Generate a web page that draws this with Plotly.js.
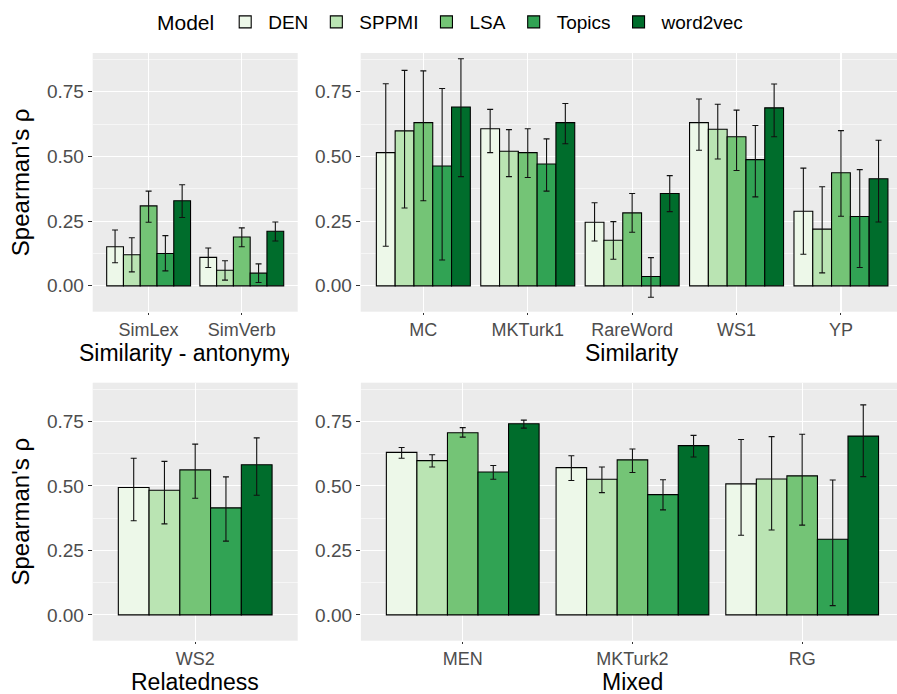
<!DOCTYPE html>
<html>
<head>
<meta charset="utf-8">
<script src="https://cdn.plot.ly/plotly-3.0.1.min.js"></script>
<style>
  html, body { margin: 0; padding: 0; overflow: hidden; background: #ffffff; }
  #chart { width: 905px; height: 694px; }
</style>
</head>
<body>
<div id="chart"></div>
<script>
// Models compared, in legend order
const models = ['DEN', 'SPPMI', 'LSA', 'Topics', 'word2vec'];

// Evaluation tasks, grouped by facet
const antonymyTasks = ['SimLex', 'SimVerb'];
const similarityTasks = ['MC', 'MKTurk1', 'RareWord', 'WS1', 'YP'];
const relatednessTasks = ['WS2'];
const mixedTasks = ['MEN', 'MKTurk2', 'RG'];

// All tasks in the order used by the value arrays below
const tasks = ['SimLex', 'SimVerb', 'MC', 'MKTurk1', 'RareWord', 'WS1', 'YP', 'WS2', 'MEN', 'MKTurk2', 'RG'];

// Spearman's rho per task, with lower / upper confidence bounds
const rhoDEN = [0.151, 0.110, 0.515, 0.607, 0.246, 0.631, 0.288, 0.494, 0.630, 0.571, 0.508];
const loDEN  = [0.089, 0.071, 0.153, 0.515, 0.173, 0.524, 0.122, 0.365, 0.607, 0.521, 0.309];
const hiDEN  = [0.216, 0.146, 0.781, 0.682, 0.321, 0.722, 0.455, 0.607, 0.649, 0.617, 0.680];

const rhoSPPMI = [0.120, 0.060, 0.599, 0.520, 0.176, 0.605, 0.219, 0.483, 0.598, 0.526, 0.527];
const loSPPMI  = [0.054, 0.022, 0.301, 0.422, 0.103, 0.490, 0.050, 0.353, 0.573, 0.474, 0.329];
const hiSPPMI  = [0.186, 0.097, 0.833, 0.604, 0.248, 0.702, 0.383, 0.595, 0.621, 0.573, 0.691];

const rhoLSA = [0.309, 0.189, 0.631, 0.515, 0.282, 0.576, 0.437, 0.562, 0.706, 0.601, 0.539];
const loLSA  = [0.246, 0.151, 0.329, 0.419, 0.207, 0.446, 0.269, 0.452, 0.689, 0.552, 0.348];
const hiLSA  = [0.366, 0.224, 0.831, 0.607, 0.357, 0.679, 0.600, 0.662, 0.726, 0.643, 0.700];

const rhoTopics = [0.125, 0.049, 0.463, 0.471, 0.036, 0.488, 0.268, 0.415, 0.554, 0.466, 0.293];
const loTopics  = [0.058, 0.013, 0.100, 0.366, -0.044, 0.344, 0.071, 0.286, 0.526, 0.407, 0.036];
const hiTopics  = [0.194, 0.085, 0.763, 0.568, 0.109, 0.620, 0.449, 0.535, 0.579, 0.524, 0.523];

const rhoW2V = [0.329, 0.211, 0.691, 0.631, 0.357, 0.688, 0.414, 0.582, 0.741, 0.656, 0.693];
const loW2V  = [0.264, 0.173, 0.422, 0.549, 0.287, 0.576, 0.247, 0.464, 0.724, 0.612, 0.536];
const hiW2V  = [0.391, 0.247, 0.878, 0.705, 0.426, 0.780, 0.563, 0.686, 0.755, 0.696, 0.814];

// Y axis tick values
const yTicks = [0, 0.25, 0.5, 0.75];
const yTickText = ['0.00', '0.25', '0.50', '0.75'];
const yMinorTicks = [-0.125, 0.125, 0.375, 0.625, 0.875];

// ColorBrewer "Greens" fills
const fills = ['#edf8e9', '#bae4b3', '#74c476', '#31a354', '#006d2c'];

const rhoByModel = [rhoDEN, rhoSPPMI, rhoLSA, rhoTopics, rhoW2V];
const loByModel = [loDEN, loSPPMI, loLSA, loTopics, loW2V];
const hiByModel = [hiDEN, hiSPPMI, hiLSA, hiTopics, hiW2V];

const FONT = 'Liberation Sans, Arial, Helvetica, sans-serif';
const W = 905, H = 694;

// Facet panels: pixel boxes of each plotting area
const panels = [
  { tasks: antonymyTasks,    label: 'Similarity - antonymy', ax: '',  x0: 92.7,  x1: 297.7, y0: 53,    y1: 311.7 },
  { tasks: similarityTasks,  label: 'Similarity',            ax: '2', x0: 360.7, x1: 903.6, y0: 53,    y1: 311.7 },
  { tasks: relatednessTasks, label: 'Relatedness',           ax: '3', x0: 92.7,  x1: 297.7, y0: 382.7, y1: 640.7 },
  { tasks: mixedTasks,       label: 'Mixed',                 ax: '4', x0: 360.9, x1: 904.0, y0: 382.7, y1: 640.7 }
];

const traces = [];
panels.forEach((p, pi) => {
  models.forEach((m, mi) => {
    const idx = p.tasks.map(t => tasks.indexOf(t));
    const y = idx.map(i => rhoByModel[mi][i]);
    const up = idx.map((i, k) => hiByModel[mi][i] - y[k]);
    const dn = idx.map((i, k) => y[k] - loByModel[mi][i]);
    traces.push({
      type: 'bar',
      name: m,
      legendgroup: m,
      showlegend: pi === 0,
      x: p.tasks,
      y: y,
      xaxis: 'x' + p.ax,
      yaxis: 'y' + p.ax,
      marker: { color: fills[mi], line: { color: '#000000', width: 1.1 } },
      error_y: {
        type: 'data', symmetric: false, array: up, arrayminus: dn,
        color: '#111111', thickness: 1.1, width: 3
      },
      hoverinfo: 'x+y+name'
    });
  });
});

const layout = {
  width: W, height: H,
  margin: { l: 0, r: 0, t: 0, b: 0, pad: 0 },
  paper_bgcolor: '#ffffff',
  plot_bgcolor: '#ebebeb',
  barmode: 'group',
  bargap: 0.1,
  bargroupgap: 0,
  font: { family: FONT, color: '#000000' },
  showlegend: true,
  legend: {
    orientation: 'h',
    x: 155 / W, xanchor: 'left',
    y: 1 - 3 / H, yanchor: 'top',
    itemwidth: 36,
    font: { family: FONT, size: 19, color: '#000000' },
    title: { text: 'Model', side: 'left', font: { family: FONT, size: 21, color: '#000000' } },
    traceorder: 'normal',
    bgcolor: 'rgba(0,0,0,0)'
  },
  annotations: []
};

panels.forEach((p, pi) => {
  const n = p.tasks.length;
  layout['xaxis' + p.ax] = {
    domain: [p.x0 / W, p.x1 / W],
    anchor: 'y' + p.ax,
    type: 'category',
    range: [-0.6, n - 0.4],
    showgrid: true, gridcolor: '#ffffff', gridwidth: 1.1,
    zeroline: false, showline: false,
    ticks: 'outside', ticklen: 2, tickwidth: 1, tickcolor: '#333333',
    tickfont: { family: FONT, size: 18, color: '#4d4d4d' },
    fixedrange: true
  };
  layout['yaxis' + p.ax] = {
    domain: [1 - p.y1 / H, 1 - p.y0 / H],
    anchor: 'x' + p.ax,
    range: [-0.1, 0.9],
    tickmode: 'array', tickvals: yTicks, ticktext: yTickText,
    showgrid: true, gridcolor: '#ffffff', gridwidth: 1.1,
    minor: { tickmode: 'array', tickvals: yMinorTicks, showgrid: true, gridcolor: '#ffffff', gridwidth: 0.55, ticks: '' },
    zeroline: false, showline: false,
    ticks: 'outside', ticklen: 4, tickwidth: 1, tickcolor: '#333333',
    tickfont: { family: FONT, size: 19, color: '#4d4d4d' },
    fixedrange: true
  };
  if (pi === 0 || pi === 2) {
    layout['yaxis' + p.ax].title = {
      text: "Spearman's ρ",
      font: { family: FONT, size: 24, color: '#000000' },
      standoff: 10
    };
  }
  // Facet strip labels under each panel
  const stripY = pi < 2 ? 353 : 682;
  const ann = {
    xref: 'paper', yref: 'paper',
    y: 1 - stripY / H, yanchor: 'middle',
    text: p.label, showarrow: false,
    font: { family: FONT, size: 23, color: '#000000' }
  };
  if (pi === 0) {
    // long strip label is clipped at the strip edge
    ann.x = 77 / W; ann.xanchor = 'left'; ann.width = 210; ann.align = 'left';
  } else {
    ann.x = (p.x0 + p.x1) / 2 / W; ann.xanchor = 'center';
  }
  layout.annotations.push(ann);
});

Plotly.newPlot('chart', traces, layout, { displayModeBar: false, staticPlot: true });
</script>
</body>
</html>
